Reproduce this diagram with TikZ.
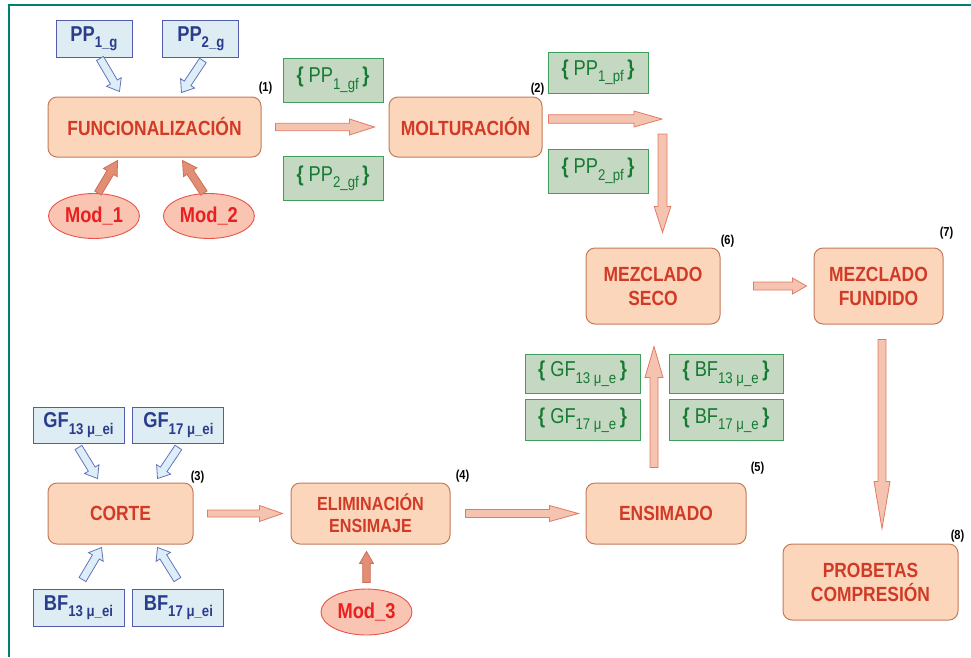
\documentclass[tikz,border=0pt]{standalone}
\usepackage{fontspec}
\setmainfont{Liberation Sans}[FakeStretch=0.85]
\usetikzlibrary{positioning,calc,shapes.geometric}
\definecolor{framegreen}{RGB}{0,128,115}
\definecolor{procfill}{RGB}{252,214,186}
\definecolor{procline}{RGB}{196,122,92}
\definecolor{proctext}{RGB}{208,58,38}
\definecolor{modfill}{RGB}{249,196,178}
\definecolor{modline}{RGB}{232,84,74}
\definecolor{modtext}{RGB}{232,32,32}
\definecolor{modarrow}{RGB}{226,142,116}
\definecolor{modarrowline}{RGB}{204,112,88}
\definecolor{flowfill}{RGB}{245,196,176}
\definecolor{flowline}{RGB}{226,122,102}
\definecolor{infill}{RGB}{221,237,243}
\definecolor{inline}{RGB}{82,92,170}
\definecolor{intext}{RGB}{44,60,140}
\definecolor{inarrow}{RGB}{222,238,248}
\definecolor{inarrowline}{RGB}{96,116,186}
\definecolor{outfill}{RGB}{197,216,193}
\definecolor{outline}{RGB}{62,160,92}
\definecolor{outtext}{RGB}{22,122,52}
\newcommand{\lowsub}[1]{\raisebox{-6.5pt}{\fontsize{15.5}{15.5}\selectfont #1}}
% block arrow drawn as a closed outline between two points
\tikzset{
 fat w/.store in=\fatw, fat h/.store in=\fath, fat l/.store in=\fatl,
 fat a/.store in=\fata, fat b/.store in=\fatb,
 fat w=4pt, fat h=8pt, fat l=25pt, fat a=0pt, fat b=0pt,
 fat/.style={to path={
  let \p1=(\tikztostart), \p2=(\tikztotarget),
      \n1={atan2(\y2-\y1,\x2-\x1)},
      \n2={veclen(\x2-\x1,\y2-\y1)-\fata-\fatb-\fatl}
  in ($(\p1)+(\n1:\fata)+(\n1+90:\fatw)$) -- ++(\n1:{\n2*1pt}) -- ++(\n1+90:{\fath-\fatw})
     -- ($(\p2)+(\n1+180:\fatb)$)
     -- ($(\p1)+(\n1:{\fata+\n2*1pt})+(\n1-90:\fath)$) -- ++(\n1+90:{\fath-\fatw})
     -- ($(\p1)+(\n1:\fata)+(\n1-90:\fatw)$) -- cycle}}
}

\begin{document}
\begin{tikzpicture}[x=1pt,y=-1pt,
 proc/.style={draw=procline,line width=1pt,fill=procfill,text=proctext,rounded corners=9pt,align=center,inner sep=0pt,font=\fontsize{20.5}{24}\selectfont\bfseries},
 inbox/.style={draw=inline,line width=0.9pt,fill=infill,text=intext,inner sep=0pt,minimum width=76pt,minimum height=37pt,font=\fontsize{21.5}{22}\selectfont\bfseries},
 outbox/.style={draw=outline,line width=0.9pt,fill=outfill,text=outtext,inner sep=0pt,minimum width=100pt,minimum height=44pt,font=\fontsize{21.5}{22}\selectfont},
 modnode/.style={ellipse,draw=modline,line width=0.9pt,fill=modfill,text=modtext,inner sep=0pt,minimum width=91pt,minimum height=45pt,font=\fontsize{21.5}{22}\selectfont\bfseries},
 stepno/.style={inner sep=0pt,font=\fontsize{13}{14}\selectfont\bfseries},
 flow/.style={fat,draw=flowline,fill=flowfill,line width=0.8pt},
 modarr/.style={fat,draw=modarrowline,fill=modarrow,line width=0.8pt,fat w=3.8pt,fat h=8pt,fat l=14pt},
 inarr/.style={fat,draw=inarrowline,fill=inarrow,line width=0.8pt,fat w=4pt,fat h=8.5pt,fat l=11pt}
]
\useasboundingbox (0,0) rectangle (971,657);
\draw[framegreen,line width=2.5pt] (9,657) -- (9,5) -- (971,5);

% process boxes
\node[proc,minimum width=213pt,minimum height=60pt] (func) at (154.5,127) {FUNCIONALIZACIÓN};
\node[proc,minimum width=153pt,minimum height=60pt] (molt) at (465.5,127) {MOLTURACIÓN};
\node[proc,minimum width=134pt,minimum height=76pt] (seco) at (653,286) {MEZCLADO\\SECO};
\node[proc,minimum width=129pt,minimum height=76pt] (fundido) at (878.5,286) {MEZCLADO\\FUNDIDO};
\node[proc,minimum width=175pt,minimum height=76pt] (probetas) at (870.5,582) {PROBETAS\\COMPRESIÓN};
\node[proc,minimum width=145pt,minimum height=61pt] (corte) at (120.5,513.5) {CORTE};
\node[proc,minimum width=159pt,minimum height=61pt,font=\fontsize{19}{22}\selectfont\bfseries] (elim) at (370.5,513.5) {ELIMINACIÓN\\ENSIMAJE};
\node[proc,minimum width=160pt,minimum height=61pt] (ensimado) at (666,513.5) {ENSIMADO};

% step numbers
\node[stepno] (n1) at ($(func.north east)+(4,-8)$) {(1)};
\node[stepno] (n2) at ($(molt.north east)+(-5,-7)$) {(2)};
\node[stepno] (n3) at ($(corte.north east)+(4,-5)$) {(3)};
\node[stepno] (n4) at ($(elim.north east)+(12,-6)$) {(4)};
\node[stepno] (n5) at ($(ensimado.north east)+(11,-14)$) {(5)};
\node[stepno] (n6) at ($(seco.north east)+(7,-6)$) {(6)};
\node[stepno] (n7) at ($(fundido.north east)+(3,-14)$) {(7)};
\node[stepno] (n8) at ($(probetas.north east)+(-1,-7)$) {(8)};

% inputs
\node[inbox] (pp1g) at (94,38.5) {PP\lowsub{1\_g}};
\node[inbox,right=30pt of pp1g] (pp2g) {PP\lowsub{2\_g}};
\node[inbox,minimum width=91pt,minimum height=36pt] (gf13ei) at (78.5,425) {GF\lowsub{13 μ\_ei}};
\node[inbox,minimum width=91pt,minimum height=36pt,right=8pt of gf13ei] (gf17ei) {GF\lowsub{17 μ\_ei}};
\node[inbox,minimum width=91pt] (bf13ei) at (78.5,607.5) {BF\lowsub{13 μ\_ei}};
\node[inbox,minimum width=91pt,right=8pt of bf13ei] (bf17ei) {BF\lowsub{17 μ\_ei}};

% intermediate products
\node[outbox] (pp1gf) at (333,80) {\textbf{\{} PP\lowsub{1\_gf}\,\textbf{\}}};
\node[outbox] (pp2gf) at (333,178.5) {\textbf{\{} PP\lowsub{2\_gf}\,\textbf{\}}};
\node[outbox,minimum height=41pt] (pp1pf) at (598,72.5) {\textbf{\{} PP\lowsub{1\_pf}\,\textbf{\}}};
\node[outbox] (pp2pf) at (598,171) {\textbf{\{} PP\lowsub{2\_pf}\,\textbf{\}}};
\node[outbox,minimum width=115pt,minimum height=39pt] (gf13e) at (582.5,373.5) {\textbf{\{} GF\lowsub{13 μ\_e}\,\textbf{\}}};
\node[outbox,minimum width=115pt,minimum height=41pt,below=6pt of gf13e] (gf17e) {\textbf{\{} GF\lowsub{17 μ\_e}\,\textbf{\}}};
\node[outbox,minimum width=114pt,minimum height=39pt] (bf13e) at (726,373.5) {\textbf{\{} BF\lowsub{13 μ\_e}\,\textbf{\}}};
\node[outbox,minimum width=114pt,minimum height=41pt,below=6pt of bf13e] (bf17e) {\textbf{\{} BF\lowsub{17 μ\_e}\,\textbf{\}}};

% modifiers
\node[modnode] (mod1) at (94,216) {Mod\_1};
\node[modnode,right=23pt of mod1] (mod2) {Mod\_2};
\node[modnode,minimum height=46pt] (mod3) at (366.5,612) {Mod\_3};

\coordinate (mcorner) at (662,119);
\coordinate (dcorner) at (662.5,134);

% flow arrows
\draw[flow,fat w=3.7pt,fat a=14pt,fat b=14pt] (func.east) to (molt.west);
\draw[flow,fat w=4.3pt,fat l=28pt] ($(molt.east)+(6,-8)$) to (mcorner);
\draw[flow,fat w=4.5pt,fat h=8.3pt,fat l=26pt] (dcorner) to ($(seco.north)+(9.5,-15)$);
\draw[flow,fat a=33pt,fat b=7pt,fat l=14pt] (seco.east) to (fundido.west);
\draw[flow,fat l=47pt] ($(fundido.south)+(3.5,15)$) to ($(probetas.north)+(11.5,-15)$);
\draw[flow,fat h=9pt,fat l=31pt] ($(ensimado.north)+(-12,-15)$) to ($(seco.south)+(1,22)$);
\draw[flow,fat w=3.5pt,fat l=23pt,fat a=14pt,fat b=8pt] (corte.east) to (elim.west);
\draw[flow,fat l=29pt,fat a=15pt,fat b=7pt] (elim.east) to (ensimado.west);

% modifier arrows
\draw[modarr] ($(mod1.north)+(4,0)$) to ($(func.south west)+(70,3)$);
\draw[modarr] ($(mod2.north)+(-5,0)$) to ($(func.south west)+(135,3)$);
\draw[modarr,fat h=7pt,fat l=12pt] ($(mod3.north)+(0,-6)$) to ($(elim.south)+(-4,7)$);

% input arrows
\draw[inarr] ($(pp1g.south)+(6,1)$) to ($(func.north west)+(72,-5)$);
\draw[inarr] ($(pp2g.south)+(2,3)$) to ($(func.north west)+(134,-4)$);
\draw[inarr] ($(gf13ei.south)+(0,4)$) to ($(corte.north west)+(50,-4)$);
\draw[inarr] ($(gf17ei.south)+(0,4)$) to ($(corte.north west)+(110,-4)$);
\draw[inarr] ($(bf13ei.north)+(4,-9)$) to ($(corte.south west)+(54,3)$);
\draw[inarr] ($(bf17ei.north)+(-1,-9)$) to ($(corte.south west)+(110,3)$);
\end{tikzpicture}
\end{document}
